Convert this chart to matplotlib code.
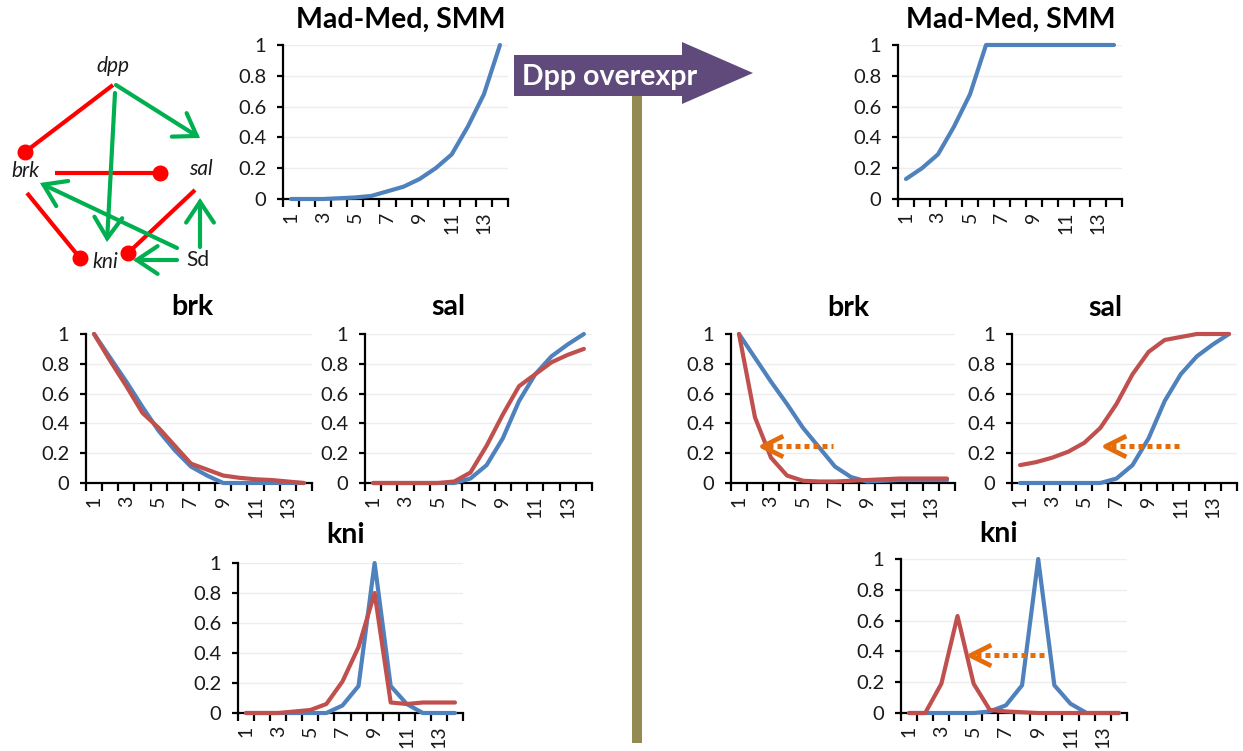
import matplotlib
matplotlib.use("Agg")
import matplotlib.pyplot as plt
from matplotlib.path import Path
from matplotlib.patches import Polygon, Rectangle
import numpy as np

# ---------------- data ----------------
positions = list(range(1, 15))
x_tick_labels = ['1', '', '3', '', '5', '', '7', '', '9', '', '11', '', '13', '']
y_ticks = [0, 0.2, 0.4, 0.6, 0.8, 1.0]
y_tick_labels = ['0', '0.2', '0.4', '0.6', '0.8', '1']

madmed_wt = [0, 0, 0, 0.005, 0.01, 0.02, 0.05, 0.08, 0.13, 0.2, 0.29, 0.47, 0.68, 1.0]
madmed_dpp = [0.13, 0.2, 0.29, 0.47, 0.68, 1.0, 1.0, 1.0, 1.0, 1.0, 1.0, 1.0, 1.0, 1.0]

brk_wt_blue = [1.0, 0.84, 0.68, 0.51, 0.35, 0.22, 0.11, 0.05, 0.0, 0, 0, 0, 0, 0]
brk_wt_red = [1.0, 0.82, 0.65, 0.47, 0.37, 0.25, 0.13, 0.09, 0.05, 0.035, 0.025, 0.02, 0.01, 0.0]
sal_wt_blue = [0, 0, 0, 0, 0, 0, 0.03, 0.12, 0.3, 0.55, 0.73, 0.85, 0.93, 1.0]
sal_wt_red = [0, 0, 0, 0, 0, 0.01, 0.07, 0.25, 0.46, 0.65, 0.73, 0.81, 0.86, 0.9]
kni_wt_blue = [0, 0, 0, 0, 0, 0, 0.05, 0.18, 1.0, 0.18, 0.06, 0, 0, 0]
kni_wt_red = [0, 0, 0, 0.01, 0.02, 0.06, 0.21, 0.44, 0.8, 0.07, 0.06, 0.07, 0.07, 0.07]

brk_dpp_blue = [1.0, 0.84, 0.68, 0.53, 0.37, 0.24, 0.11, 0.04, 0.01, 0.015, 0.02, 0.02, 0.02, 0.02]
brk_dpp_red = [1.0, 0.44, 0.17, 0.05, 0.015, 0.01, 0.01, 0.015, 0.02, 0.025, 0.03, 0.03, 0.03, 0.03]
sal_dpp_blue = [0, 0, 0, 0, 0, 0, 0.03, 0.12, 0.3, 0.55, 0.73, 0.85, 0.93, 1.0]
sal_dpp_red = [0.12, 0.14, 0.17, 0.21, 0.27, 0.37, 0.53, 0.73, 0.88, 0.96, 0.98, 1.0, 1.0, 1.0]
kni_dpp_blue = [0, 0, 0, 0, 0, 0.01, 0.05, 0.18, 1.0, 0.18, 0.06, 0, 0, 0]
kni_dpp_red = [0, 0, 0.19, 0.63, 0.19, 0.02, 0.01, 0.005, 0, 0, 0, 0, 0, 0]

# shift arrows (tip x, tail x, y) in data units
brk_shift = (2.45, 6.9, 0.245)
sal_shift = (6.3, 10.9, 0.245)
kni_shift = (4.8, 9.4, 0.375)

# ---------------- style ----------------
W, H, DPI = 1243, 751, 100
BLUE = '#4F81BD'
RED = '#C0504D'
ORANGE = '#E46C0A'
GREEN = '#00B050'
NETRED = '#FF0000'
PURPLE = '#604A7B'
OLIVE = '#948A54'
TXT = '#1A1A1A'
FONT = 'Lato'

plt.rcParams['font.family'] = [FONT, 'DejaVu Sans']

fig = plt.figure(figsize=(W / DPI, H / DPI), dpi=DPI)
fig.patch.set_facecolor('white')


def px_axes(l, t, r, b):
    return fig.add_axes([l / W, 1 - b / H, (r - l) / W, (b - t) / H])


def style(ax):
    ax.set_xlim(0.5, 14.5)
    ax.set_ylim(0, 1)
    for s in ('top', 'right'):
        ax.spines[s].set_visible(False)
    for s in ('left', 'bottom'):
        ax.spines[s].set_linewidth(1.6)
        ax.spines[s].set_color('black')
    ax.set_yticks(y_ticks)
    ax.set_yticklabels(y_tick_labels)
    ax.tick_params(axis='y', length=4, width=1.6, direction='out', pad=8,
                   labelsize=14.5, labelcolor=TXT)
    ax.set_xticks(np.arange(0.5, 15, 1))
    ax.set_xticklabels([])
    ax.tick_params(axis='x', which='major', length=5.5, width=1.6, direction='out')
    ax.set_xticks(positions, minor=True)
    ax.set_xticklabels(x_tick_labels, minor=True, rotation=90, fontsize=14, color=TXT)
    ax.tick_params(axis='x', which='minor', length=0, pad=9)
    ax.yaxis.grid(True, color='#EDEDED', lw=1.0)
    ax.set_axisbelow(True)
    ax.patch.set_alpha(0)


def line(ax, vals, color):
    ax.plot(positions, vals, color=color, lw=3.0, solid_joinstyle='round',
            solid_capstyle='round', clip_on=False, zorder=3)


chevron = Path([(2, 1), (0, 0), (2, -1)], [Path.MOVETO, Path.LINETO, Path.LINETO])


def shift_arrow(ax, spec):
    tip, tail, y = spec
    ax.plot([tip + 0.35, tail], [y, y], color=ORANGE, lw=3.6,
            linestyle=(0, (1, 0.8)), dash_capstyle='butt', zorder=5, clip_on=False)
    ax.plot([tip], [y], marker=chevron, markersize=30, markerfacecolor='none',
            markeredgecolor=ORANGE, markeredgewidth=3.4, zorder=6, clip_on=False)


boxes = {
    'mm_l': (283, 45, 508, 199),
    'mm_r': (898, 45, 1122, 199),
    'brk_l': (86, 334, 312, 483),
    'sal_l': (365, 334, 592, 483),
    'kni_l': (238, 563, 463, 713),
    'brk_r': (731, 334, 955, 483),
    'sal_r': (1012, 334, 1237, 483),
    'kni_r': (901, 559, 1127, 713),
}
axs = {k: px_axes(*v) for k, v in boxes.items()}
for ax in axs.values():
    style(ax)

line(axs['mm_l'], madmed_wt, BLUE)
line(axs['mm_r'], madmed_dpp, BLUE)
line(axs['brk_l'], brk_wt_blue, BLUE)
line(axs['brk_l'], brk_wt_red, RED)
line(axs['sal_l'], sal_wt_blue, BLUE)
line(axs['sal_l'], sal_wt_red, RED)
line(axs['kni_l'], kni_wt_blue, BLUE)
line(axs['kni_l'], kni_wt_red, RED)
line(axs['brk_r'], brk_dpp_blue, BLUE)
line(axs['brk_r'], brk_dpp_red, RED)
line(axs['sal_r'], sal_dpp_blue, BLUE)
line(axs['sal_r'], sal_dpp_red, RED)
line(axs['kni_r'], kni_dpp_blue, BLUE)
line(axs['kni_r'], kni_dpp_red, RED)

shift_arrow(axs['brk_r'], brk_shift)
shift_arrow(axs['sal_r'], sal_shift)
shift_arrow(axs['kni_r'], kni_shift)

# ---------------- titles ----------------
titles = [
    ('Mad-Med, SMM', 401, 28),
    ('Mad-Med, SMM', 1011, 28),
    ('brk', 192, 315),
    ('sal', 448, 315),
    ('kni', 346, 543),
    ('brk', 848, 316),
    ('sal', 1105, 316),
    ('kni', 999, 542),
]
for txt, x, y in titles:
    fig.text(x / W, 1 - y / H, txt, ha='center', va='baseline',
             fontsize=20.5, fontweight='bold', color='black')

# ---------------- overlay: diagram, arrow, divider ----------------
ov = fig.add_axes([0, 0, 1, 1], zorder=-1)
ov.set_xlim(0, W)
ov.set_ylim(H, 0)
ov.axis('off')

# divider bar
ov.add_patch(Rectangle((632, 96), 10, 647, facecolor=OLIVE, edgecolor='none'))
# purple block arrow
ov.add_patch(Polygon([(514, 55), (682, 55), (682, 42), (753, 73), (682, 104),
                      (682, 96), (514, 96)], closed=True, facecolor=PURPLE,
                     edgecolor='none'))
ov.text(522, 77, 'Dpp overexpr', color='white', fontsize=20.5, fontweight='bold',
        ha='left', va='center')

# regulatory network
nodes = {
    'dpp': (113, 66, 'italic'),
    'brk': (25, 171, 'italic'),
    'sal': (201, 169, 'italic'),
    'kni': (105, 262, 'italic'),
    'Sd': (198, 260, 'normal'),
}
for name, (x, y, st) in nodes.items():
    ov.text(x, y, name, ha='center', va='center', fontsize=15, style=st, color=TXT)

repressions = [((113, 85), (25, 152)), ((55, 173), (160, 173)),
               ((27, 193), (80, 258)), ((195, 190), (128, 253))]
activations = [((116, 85), (200, 138)), ((115, 93), (107, 242)),
               ((177, 248), (40, 183)), ((177, 260), (133, 260)),
               ((200, 247), (200, 198))]
for (x0, y0), (x1, y1) in repressions:
    ov.plot([x0, x1], [y0, y1], color=NETRED, lw=3, solid_capstyle='butt')
    ov.plot([x1], [y1], 'o', color=NETRED, markersize=10.5)
for (x0, y0), (x1, y1) in activations:
    ov.annotate('', xy=(x1, y1), xytext=(x0, y0),
                arrowprops=dict(arrowstyle='->, head_length=0.75, head_width=0.5',
                                color=GREEN, lw=3, mutation_scale=20,
                                shrinkA=0, shrinkB=0, joinstyle='miter'))

fig.savefig('out.png', dpi=DPI, facecolor='white')
